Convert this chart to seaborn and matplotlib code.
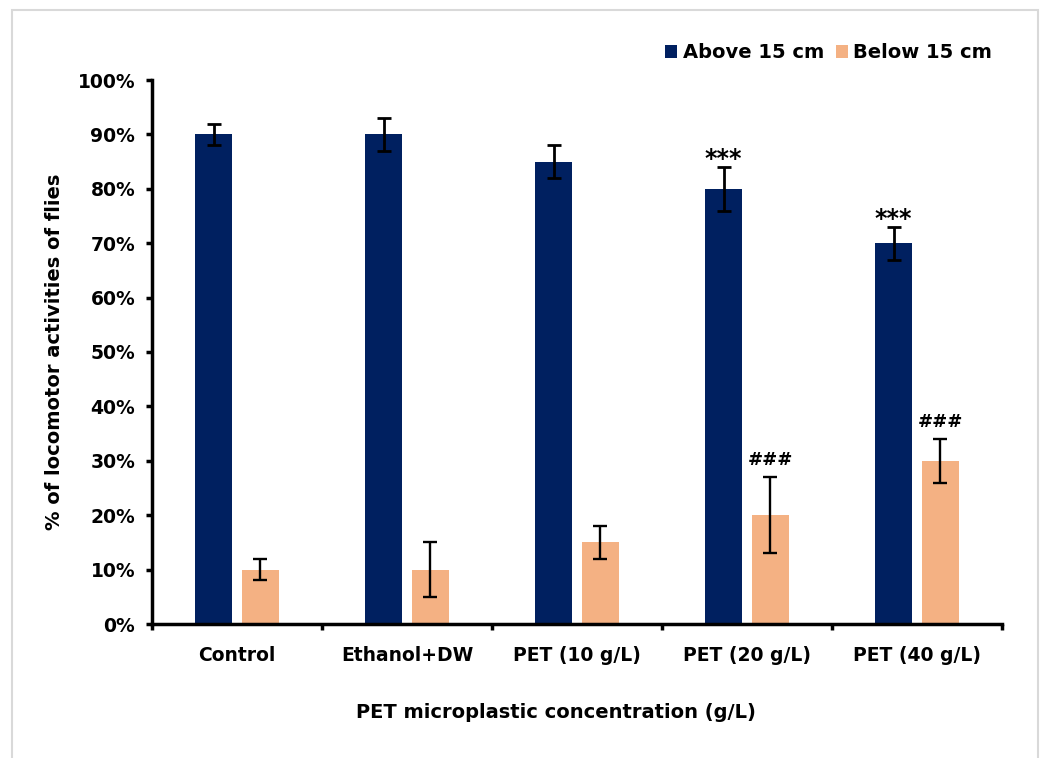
import matplotlib
matplotlib.use("Agg")
import matplotlib.pyplot as plt
import matplotlib.ticker as ticker
import matplotlib.patches as patches
import numpy as np
import pandas as pd
import seaborn as sns

# data
GROUPS = ["Control", "Ethanol+DW", "PET (10 g/L)", "PET (20 g/L)", "PET (40 g/L)"]
ABOVE = [90, 90, 85, 80, 70]
ABOVE_ERR = [2, 3, 3, 4, 3]
BELOW = [10, 10, 15, 20, 30]
BELOW_ERR = [2, 5, 3, 7, 4]
ABOVE_MARKS = ["", "", "", "***", "***"]
BELOW_MARKS = ["", "", "", "###", "###"]
SERIES = ["Above 15 cm", "Below 15 cm"]

COLORS = {"Above 15 cm": "#002060", "Below 15 cm": "#F4B183"}

df = pd.DataFrame({
    "group": GROUPS * 2,
    "series": [SERIES[0]] * len(GROUPS) + [SERIES[1]] * len(GROUPS),
    "value": [v / 100 for v in ABOVE + BELOW],
    "err": [e / 100 for e in ABOVE_ERR + BELOW_ERR],
    "mark": ABOVE_MARKS + BELOW_MARKS,
})

sns.set_style("white")
plt.rcParams["font.family"] = ["DejaVu Sans"]
plt.rcParams["text.color"] = "black"
plt.rcParams["axes.labelcolor"] = "black"
plt.rcParams["xtick.color"] = "black"
plt.rcParams["ytick.color"] = "black"

fig = plt.figure(figsize=(10.44, 7.58), dpi=100)
fig.patch.set_facecolor("white")
ax = fig.add_axes([152 / 1044, 134 / 758, 850 / 1044, 544 / 758])

sns.barplot(data=df, x="group", y="value", hue="series", order=GROUPS,
            hue_order=SERIES, palette=COLORS, width=0.55, gap=0.21,
            errorbar=None, saturation=1, linewidth=0, ax=ax)

# error bars and significance marks at bar centres
for i, s in enumerate(SERIES):
    sub = df[df["series"] == s].set_index("group").loc[GROUPS]
    bars = ax.containers[i]
    xs = [b.get_x() + b.get_width() / 2 for b in bars]
    lw = 2.0 if i == 0 else 1.7
    ax.errorbar(xs, sub["value"], yerr=sub["err"], fmt="none", ecolor="black",
                elinewidth=lw, capsize=5, capthick=lw, zorder=5)
    for x, v, e, m in zip(xs, sub["value"], sub["err"], sub["mark"]):
        if not m:
            continue
        if m.startswith("*"):
            ax.annotate(m, (x, v + e), xytext=(0, -3), textcoords="offset points",
                        ha="center", va="bottom", fontsize=17, fontweight="bold")
        else:
            ax.annotate(m, (x, v + e), xytext=(0, 6), textcoords="offset points",
                        ha="center", va="bottom", fontsize=13, fontweight="bold")

ax.set_ylim(0, 1.0)
ax.set_xlim(-0.5, len(GROUPS) - 0.5)
ax.yaxis.set_major_locator(ticker.MultipleLocator(0.1))
ax.yaxis.set_major_formatter(ticker.FuncFormatter(lambda y, _: f"{y * 100:.0f}%"))

# category ticks between groups, labels at group centres
ax.set_xticks(range(len(GROUPS)))
ax.set_xticklabels(GROUPS)
ax.xaxis.set_minor_locator(ticker.FixedLocator(np.arange(-0.5, len(GROUPS), 1.0)))
ax.tick_params(axis="x", which="major", length=0, pad=16, labelsize=13.5)
ax.tick_params(axis="x", which="minor", bottom=True, direction="out",
               length=4, width=2.5, color="black")
ax.tick_params(axis="y", left=True, direction="out", length=4, width=2.5,
               color="black", pad=8, labelsize=13.5)
for lab in ax.get_xticklabels() + ax.get_yticklabels():
    lab.set_fontweight("bold")

ax.spines[["top", "right"]].set_visible(False)
ax.spines[["left", "bottom"]].set_color("black")
ax.spines[["left", "bottom"]].set_linewidth(2.5)

ax.set_xlabel("")
ax.set_ylabel("% of locomotor activities of flies", fontsize=14,
              fontweight="bold", labelpad=10)
fig.text(556 / 1044, (758 - 712) / 758, "PET microplastic concentration (g/L)",
         ha="center", va="center", fontsize=14, fontweight="bold")

# legend at top right
handles, labels = ax.get_legend_handles_labels()
ax.legend(handles, labels, ncol=2, frameon=False, loc="center right",
          bbox_to_anchor=(1000 / 1044, (758 - 53) / 758),
          bbox_transform=fig.transFigure, prop={"size": 14, "weight": "bold"},
          handlelength=0.6, handleheight=0.6, handletextpad=0.3,
          columnspacing=0.6, borderaxespad=0, labelcolor="black")

# light grey frame around the chart area
fig.patches.append(patches.Rectangle((12 / 1044, -0.05), 1026 / 1044,
                                     (758 - 10) / 758 + 0.05, fill=False,
                                     edgecolor="#D9D9D9", linewidth=1.5,
                                     transform=fig.transFigure, figure=fig))

fig.savefig("out.png", dpi=100, facecolor="white")
plt.close(fig)
